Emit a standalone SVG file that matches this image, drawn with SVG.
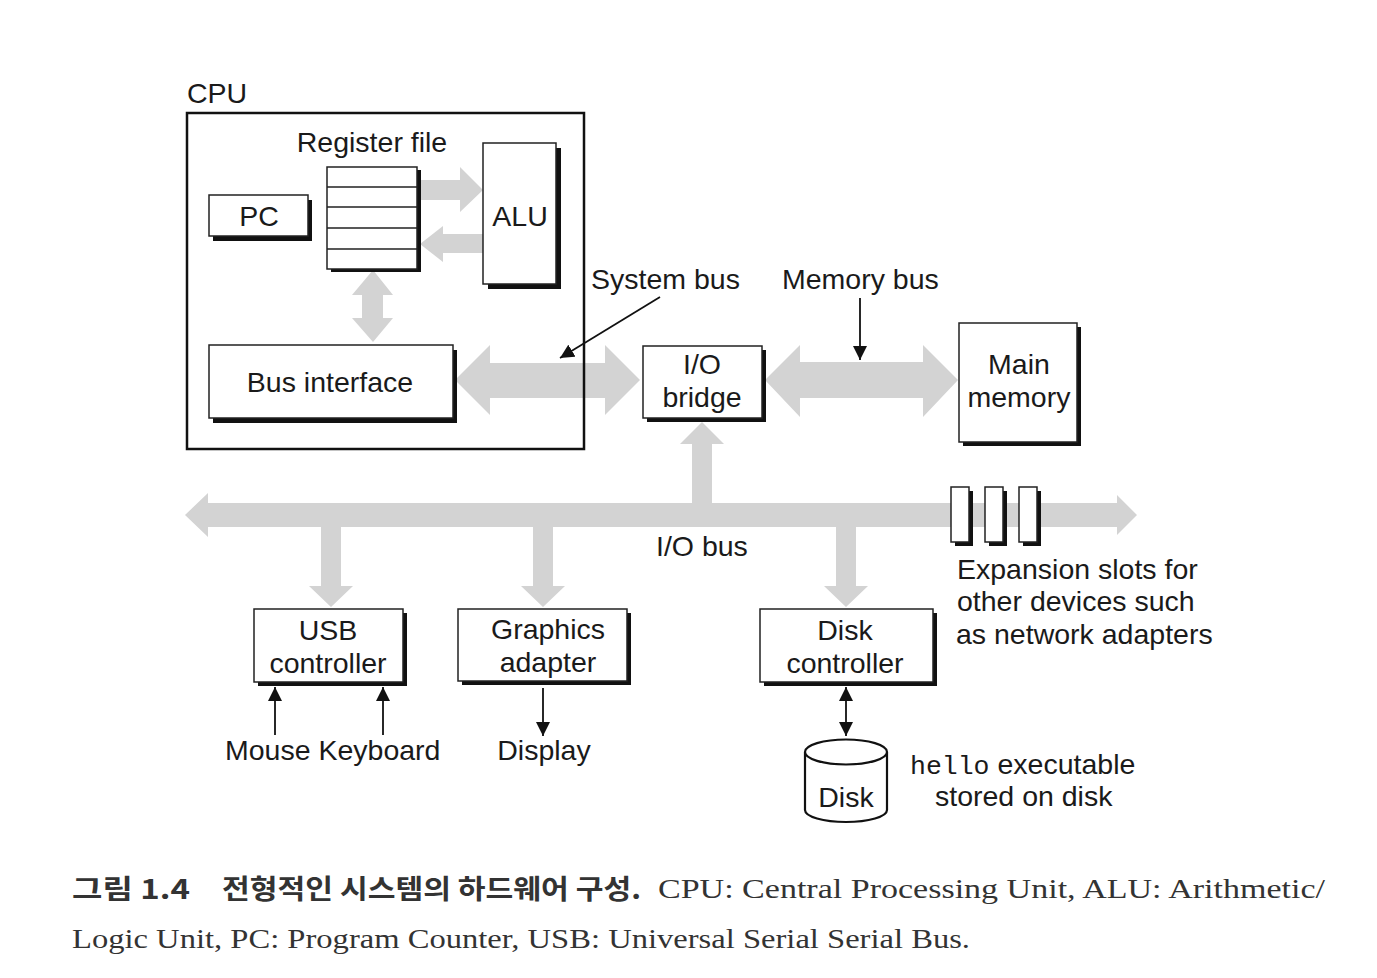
<svg xmlns="http://www.w3.org/2000/svg" width="1377" height="978" viewBox="0 0 1377 978">
<defs>
<marker id="ahb" viewBox="0 0 10 10" refX="10" refY="5" markerWidth="14" markerHeight="14" markerUnits="userSpaceOnUse" orient="auto-start-reverse">
<path d="M0,0 L10,5 L0,10 Z" fill="#111"/>
</marker>
</defs>
<style>
.t{font-family:"Liberation Sans",Arial,Helvetica,sans-serif;font-size:28.5px;fill:#1a1a1a}
.m{font-family:"Liberation Mono","Courier New",monospace;font-size:26.5px;fill:#1a1a1a}
.box{fill:#fff;stroke:#222;stroke-width:1.5}
.sh{fill:#111}
.bus{fill:#d3d3d3}
.ln{stroke:#111;stroke-width:1.8;fill:none}
.cap{font-family:"Liberation Serif","Times New Roman",serif;font-size:28px;fill:#333}
.kr{font-family:"Noto Sans CJK KR","Noto Sans",sans-serif;font-size:27px;font-weight:bold;fill:#333}
</style>
<rect width="1377" height="978" fill="#fff"/>

<g id="connectors">
<path class="bus" d="M420,180 L460,180 L460,167 L483,190 L460,212 L460,200 L420,200 Z"/>
<path class="bus" d="M483,234 L443,234 L443,226 L420,244 L443,262 L443,253 L483,253 Z"/>
<path class="bus" d="M373,270 L393,295 L383,295 L383,318 L393,318 L373,342 L352,318 L362,318 L362,295 L352,295 Z"/>
<path class="bus" d="M455,380 L490,345 L490,363 L605,363 L605,345 L640,380 L605,415 L605,398 L490,398 L490,415 Z"/>
<path class="bus" d="M765,380 L800,345 L800,362 L923,362 L923,345 L958,380 L923,417 L923,398 L800,398 L800,417 Z"/>
<path class="bus" d="M185,515 L208,493 L208,503 L1117,503 L1117,495 L1137,515 L1117,535 L1117,527 L208,527 L208,537 Z"/>
<path class="bus" d="M702,422 L724,444 L712,444 L712,505 L692,505 L692,444 L680,444 Z"/>
<path class="bus" d="M321,525 L341,525 L341,586 L353,586 L331,607 L309,586 L321,586 Z"/>
<path class="bus" d="M533,525 L553,525 L553,586 L565,586 L543,607 L521,586 L533,586 Z"/>
<path class="bus" d="M836,525 L856,525 L856,586 L868,586 L846,607 L824,586 L836,586 Z"/>
<line class="ln" x1="660" y1="297" x2="560" y2="358" marker-end="url(#ahb)"/>
<line class="ln" x1="860" y1="298" x2="860" y2="360" marker-end="url(#ahb)"/>
<line class="ln" x1="275" y1="735" x2="275" y2="687" marker-end="url(#ahb)"/>
<line class="ln" x1="383" y1="735" x2="383" y2="687" marker-end="url(#ahb)"/>
<line class="ln" x1="543" y1="688" x2="543" y2="736" marker-end="url(#ahb)"/>
<line class="ln" x1="846" y1="687" x2="846" y2="736" marker-start="url(#ahb)" marker-end="url(#ahb)"/>
</g>

<g id="cpu">
<rect x="187" y="113" width="397" height="336" fill="none" stroke="#111" stroke-width="2.5"/>
<text class="t" x="187" y="103">CPU</text>
</g>

<g id="register-file">
<text class="t" x="372" y="152" text-anchor="middle">Register file</text>
<rect class="sh" x="331" y="170" width="90" height="102"/>
<rect class="box" x="327" y="167" width="90" height="102"/>
<path d="M327,187 H417 M327,207 H417 M327,228 H417 M327,249 H417" stroke="#222" stroke-width="1.3"/>
</g>

<g id="pc">
<rect class="sh" x="213" y="200" width="99" height="41"/>
<rect class="box" x="209" y="195" width="99" height="41"/>
<text class="t" x="259" y="226" text-anchor="middle">PC</text>
</g>

<g id="alu">
<rect class="sh" x="488" y="148" width="73" height="141"/>
<rect class="box" x="483" y="143" width="73" height="141"/>
<text class="t" x="520" y="226" text-anchor="middle">ALU</text>
</g>

<g id="bus-interface">
<rect class="sh" x="213" y="350" width="244" height="73"/>
<rect class="box" x="209" y="345" width="244" height="73"/>
<text class="t" x="330" y="392" text-anchor="middle">Bus interface</text>
</g>

<g id="io-bridge">
<rect class="sh" x="647" y="350" width="119" height="72"/>
<rect class="box" x="643" y="346" width="119" height="72"/>
<text class="t" x="702" y="374" text-anchor="middle">I/O</text>
<text class="t" x="702" y="407" text-anchor="middle">bridge</text>
</g>

<g id="main-memory">
<rect class="sh" x="963" y="327" width="118" height="119"/>
<rect class="box" x="959" y="323" width="118" height="119"/>
<text class="t" x="1019" y="374" text-anchor="middle">Main</text>
<text class="t" x="1019" y="407" text-anchor="middle">memory</text>
</g>

<g id="bus-labels">
<text class="t" x="591" y="289">System bus</text>
<text class="t" x="782" y="289">Memory bus</text>
<text class="t" x="656" y="556">I/O bus</text>
</g>

<g id="expansion-slots">
<rect class="sh" x="955" y="491" width="18" height="55"/>
<rect class="box" x="951" y="487" width="18" height="55"/>
<rect class="sh" x="989" y="491" width="18" height="55"/>
<rect class="box" x="985" y="487" width="18" height="55"/>
<rect class="sh" x="1023" y="491" width="18" height="55"/>
<rect class="box" x="1019" y="487" width="18" height="55"/>
<text class="t" x="957" y="579">Expansion slots for</text>
<text class="t" x="957" y="611">other devices such</text>
<text class="t" x="956" y="644">as network adapters</text>
</g>

<g id="usb-controller">
<rect class="sh" x="258" y="613" width="149" height="73"/>
<rect class="box" x="254" y="609" width="149" height="73"/>
<text class="t" x="328" y="640" text-anchor="middle">USB</text>
<text class="t" x="328" y="673" text-anchor="middle">controller</text>
</g>

<g id="graphics-adapter">
<rect class="sh" x="462" y="613" width="169" height="72"/>
<rect class="box" x="458" y="609" width="169" height="72"/>
<text class="t" x="548" y="639" text-anchor="middle">Graphics</text>
<text class="t" x="548" y="672" text-anchor="middle">adapter</text>
</g>

<g id="disk-controller">
<rect class="sh" x="764" y="613" width="173" height="73"/>
<rect class="box" x="760" y="609" width="173" height="73"/>
<text class="t" x="845" y="640" text-anchor="middle">Disk</text>
<text class="t" x="845" y="673" text-anchor="middle">controller</text>
</g>

<g id="devices">
<text class="t" x="225" y="760">Mouse Keyboard</text>
<text class="t" x="544" y="760" text-anchor="middle">Display</text>
</g>

<g id="disk">
<path d="M805,752 V810 A41,12 0 0 0 887,810 V752" fill="#fff" stroke="#111" stroke-width="2.2"/>
<ellipse cx="846" cy="752" rx="41" ry="12.5" fill="#fff" stroke="#111" stroke-width="2.2"/>
<text class="t" x="846" y="807" text-anchor="middle">Disk</text>
<text x="910" y="774"><tspan class="m">hello</tspan><tspan class="t" dx="8">executable</tspan></text>
<text class="t" x="935" y="806">stored on disk</text>
</g>

<g id="caption">
<text class="kr" x="72" y="899" textLength="118" lengthAdjust="spacingAndGlyphs">그림 1.4</text>
<text class="kr" x="222" y="899" textLength="419" lengthAdjust="spacingAndGlyphs">전형적인 시스템의 하드웨어 구성.</text>
<text class="cap" x="658" y="898" textLength="667" lengthAdjust="spacingAndGlyphs">CPU: Central Processing Unit, ALU: Arithmetic/</text>
<text class="cap" x="72" y="948" textLength="898" lengthAdjust="spacingAndGlyphs">Logic Unit, PC: Program Counter, USB: Universal Serial Serial Bus.</text>
</g>
</svg>
